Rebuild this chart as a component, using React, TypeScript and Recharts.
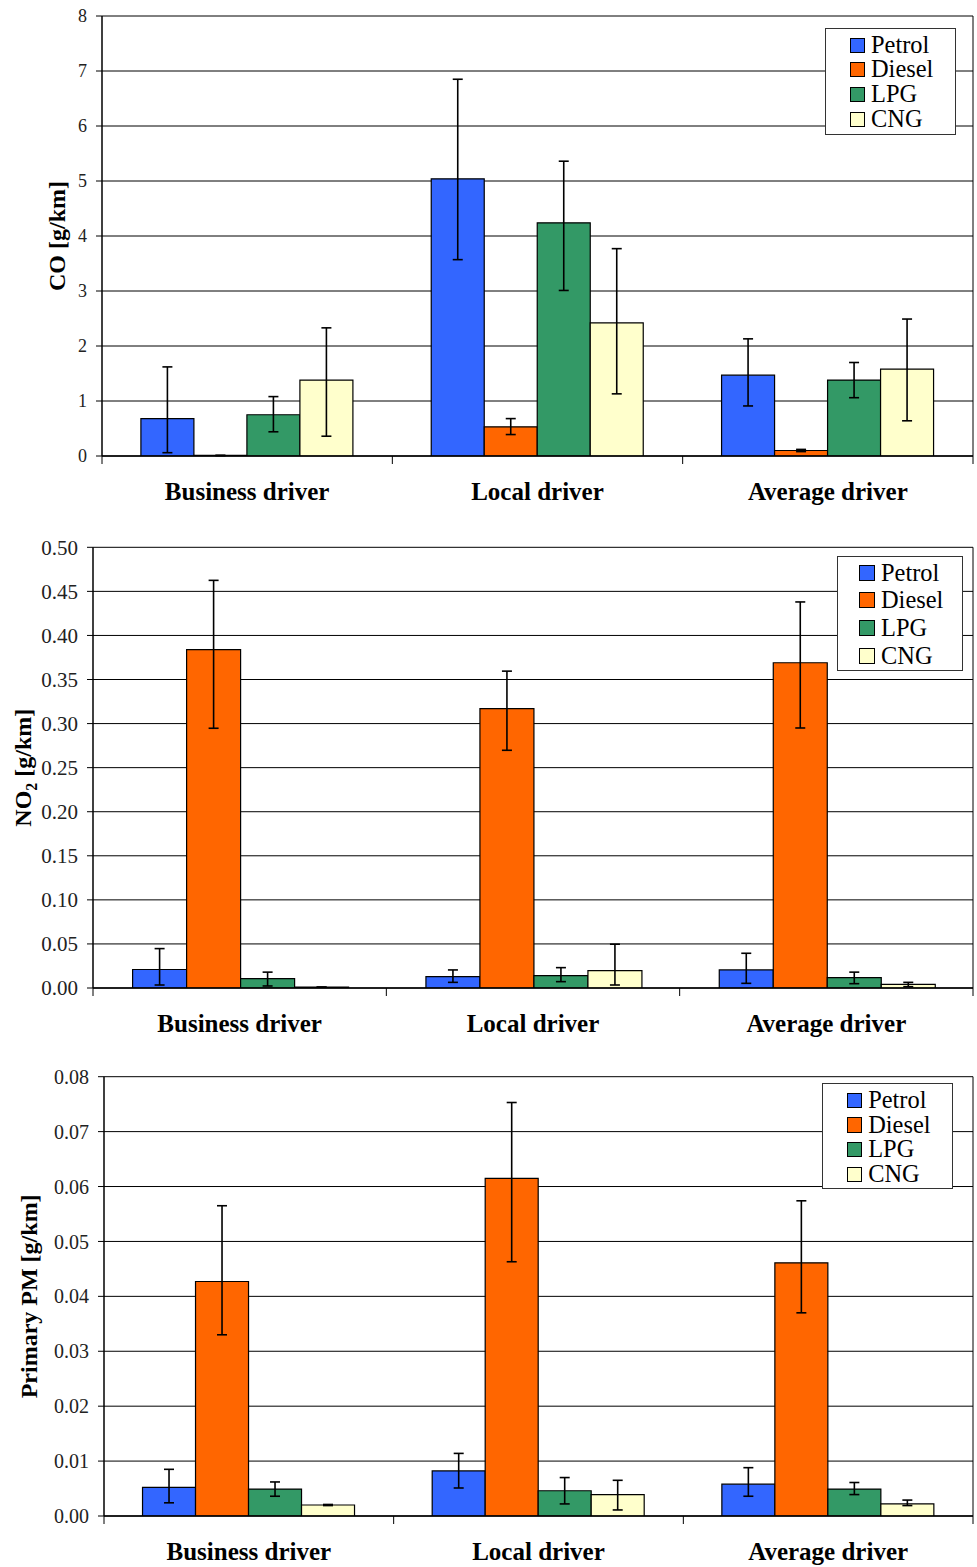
import React from 'react';
import { Bar, BarChart, XAxis, YAxis, CartesianGrid, Legend, ErrorBar, Label } from 'recharts';

const FONT = '"Liberation Serif", "Times New Roman", serif';

const drivers = ['Business driver', 'Local driver', 'Average driver'];
const fuels = ['Petrol', 'Diesel', 'LPG', 'CNG'];
const fuelColors = ['#3366FF', '#FF6600', '#339966', '#FFFFCC'];

// CO [g/km] — mean per driver type, error ranges as [low, high]
const coPetrol = [0.68, 5.04, 1.47];
const coDiesel = [0.01, 0.53, 0.1];
const coLpg = [0.75, 4.24, 1.38];
const coCng = [1.38, 2.42, 1.58];
const coPetrolRange = [[0.06, 1.62], [3.57, 6.85], [0.91, 2.13]];
const coDieselRange = [[0.01, 0.01], [0.39, 0.68], [0.08, 0.12]];
const coLpgRange = [[0.44, 1.08], [3.01, 5.36], [1.06, 1.7]];
const coCngRange = [[0.36, 2.33], [1.13, 3.77], [0.64, 2.49]];
const coTicks = [0, 1, 2, 3, 4, 5, 6, 7, 8];

// NO2 [g/km]
const no2Petrol = [0.021, 0.0128, 0.0205];
const no2Diesel = [0.384, 0.317, 0.369];
const no2Lpg = [0.0106, 0.014, 0.0117];
const no2Cng = [0.001, 0.0197, 0.0042];
const no2PetrolRange = [[0.0034, 0.0447], [0.0064, 0.0205], [0.0053, 0.0394]];
const no2DieselRange = [[0.2947, 0.4625], [0.2697, 0.3595], [0.295, 0.438]];
const no2LpgRange = [[0.0023, 0.018], [0.0072, 0.0231], [0.0049, 0.018]];
const no2CngRange = [[0.001, 0.001], [0.0034, 0.0497], [0.0015, 0.0064]];
const no2Ticks = [0, 0.05, 0.1, 0.15, 0.2, 0.25, 0.3, 0.35, 0.4, 0.45, 0.5];

// Primary PM [g/km]
const pmPetrol = [0.0052, 0.0082, 0.0058];
const pmDiesel = [0.0427, 0.0615, 0.0461];
const pmLpg = [0.0049, 0.0046, 0.0049];
const pmCng = [0.002, 0.0039, 0.0022];
const pmPetrolRange = [[0.0024, 0.0085], [0.0051, 0.0114], [0.0036, 0.0088]];
const pmDieselRange = [[0.033, 0.0565], [0.0463, 0.0753], [0.037, 0.0574]];
const pmLpgRange = [[0.0036, 0.0062], [0.0022, 0.007], [0.0039, 0.0061]];
const pmCngRange = [[0.0019, 0.0021], [0.0011, 0.0065], [0.0019, 0.0029]];
const pmTicks = [0, 0.01, 0.02, 0.03, 0.04, 0.05, 0.06, 0.07, 0.08];

type Series = [number[], number[][]];

const buildRows = (series: Series[]) =>
  drivers.map((driver, i) => {
    const row: Record<string, any> = { driver };
    series.forEach(([vals, ranges], k) => {
      const f = fuels[k];
      row[f] = vals[i];
      row[f + 'Err'] = [vals[i] - ranges[i][0], ranges[i][1] - vals[i]];
    });
    return row;
  });

const coRows = buildRows([
  [coPetrol, coPetrolRange],
  [coDiesel, coDieselRange],
  [coLpg, coLpgRange],
  [coCng, coCngRange],
]);
const no2Rows = buildRows([
  [no2Petrol, no2PetrolRange],
  [no2Diesel, no2DieselRange],
  [no2Lpg, no2LpgRange],
  [no2Cng, no2CngRange],
]);
const pmRows = buildRows([
  [pmPetrol, pmPetrolRange],
  [pmDiesel, pmDieselRange],
  [pmLpg, pmLpgRange],
  [pmCng, pmCngRange],
]);

// category label plus tick marks on the category boundaries
const CategoryTick = (props: any) => {
  const { x, y, payload, index, band, count } = props;
  const half = band / 2;
  return (
    <g>
      <line x1={x - half} y1={y} x2={x - half} y2={y + 8} stroke="#000" strokeWidth={1} />
      {index === count - 1 && <line x1={x + half} y1={y} x2={x + half} y2={y + 8} stroke="#000" strokeWidth={1} />}
      <text x={x} y={y + 44} textAnchor="middle" fontFamily={FONT} fontWeight="bold" fontSize={25} fill="#000">
        {payload.value}
      </text>
    </g>
  );
};

interface LegendCfg {
  left: number;
  top: number;
  width: number;
  rowH: number;
  padTop: number;
  padBottom: number;
  padLeft: number;
  sq: number;
}

const makeLegend = (cfg: LegendCfg) => (props: any) => {
  const items = [...(props.payload || [])].sort(
    (a: any, b: any) => fuels.indexOf(a.value) - fuels.indexOf(b.value)
  );
  return (
    <div
      style={{
        width: cfg.width,
        boxSizing: 'border-box',
        border: '1px solid #333',
        background: '#fff',
        padding: `${cfg.padTop}px 0 ${cfg.padBottom}px ${cfg.padLeft}px`,
        fontFamily: FONT,
        fontSize: 24.4,
        color: '#000',
        textAlign: 'left',
      }}
    >
      {items.map((item: any) => (
        <div key={item.value} style={{ height: cfg.rowH, lineHeight: `${cfg.rowH}px`, whiteSpace: 'nowrap' }}>
          <span
            style={{
              display: 'inline-block',
              width: cfg.sq,
              height: cfg.sq,
              boxSizing: 'border-box',
              border: '1.5px solid #000',
              background: item.color,
              marginRight: 6,
            }}
          />
          <span style={{ fontFamily: FONT }}>{item.value}</span>
        </div>
      ))}
    </div>
  );
};

interface ChartProps {
  top: number;
  height: number;
  plotTop: number;
  plotBottom: number;
  plotLeft: number;
  rows: Record<string, any>[];
  yTicks: number[];
  digits: number;
  tickFont: number;
  gap: string;
  label: React.ReactNode;
  labelX: number;
  legend: LegendCfg;
}

const RIGHT = 4;
const WIDTH = 977;

const EmissionChart = (p: ChartProps) => {
  const cy = (p.plotTop + p.plotBottom) / 2;
  const yMax = p.yTicks[p.yTicks.length - 1];
  const band = (WIDTH - RIGHT - p.plotLeft) / drivers.length;
  return (
    <div style={{ position: 'absolute', left: 0, top: p.top }}>
      <BarChart
        width={WIDTH}
        height={p.height}
        data={p.rows}
        margin={{ top: p.plotTop, right: RIGHT, bottom: 0, left: 0 }}
        barCategoryGap={p.gap}
        barGap={0}
        style={{ fontFamily: FONT }}
      >
        <CartesianGrid
          stroke="#000"
          strokeWidth={1}
          vertical
          verticalCoordinatesGenerator={({ offset }: any) => [offset.left + offset.width]}
        />
        <XAxis
          dataKey="driver"
          interval={0}
          tick={<CategoryTick band={band} count={drivers.length} />}
          tickLine={false}
          tickSize={0}
          tickMargin={0}
          axisLine={{ stroke: '#000', strokeWidth: 1.5 }}
          height={p.height - p.plotBottom}
        />
        <YAxis
          type="number"
          domain={[0, yMax]}
          ticks={p.yTicks}
          interval={0}
          allowDataOverflow
          width={p.plotLeft}
          tickFormatter={(v: number) => v.toFixed(p.digits)}
          tick={{ fill: '#222', fontSize: p.tickFont, fontFamily: FONT }}
          tickSize={6}
          tickMargin={9}
          axisLine={{ stroke: '#000', strokeWidth: 1.5 }}
          tickLine={{ stroke: '#000' }}
        >
          <Label
            content={() => (
              <text
                x={p.labelX}
                y={cy}
                transform={`rotate(-90, ${p.labelX}, ${cy})`}
                textAnchor="middle"
                fontFamily={FONT}
                fontWeight="bold"
                fontSize={24}
                fill="#000"
              >
                {p.label}
              </text>
            )}
          />
        </YAxis>
        <Legend
          layout="horizontal"
          verticalAlign="middle"
          align="center"
          content={makeLegend(p.legend)}
          wrapperStyle={{ position: 'absolute', left: p.legend.left, top: p.legend.top, width: p.legend.width }}
        />
        {fuels.map((f, k) => (
          <Bar key={f} dataKey={f} name={f} fill={fuelColors[k]} stroke="#000" strokeWidth={1.2} isAnimationActive={false}>
            <ErrorBar dataKey={f + 'Err'} direction="y" width={5} stroke="#000" strokeWidth={1.6} />
          </Bar>
        ))}
      </BarChart>
    </div>
  );
};

export default function App() {
  return (
    <div style={{ position: 'absolute', left: 0, top: 0, width: 977, height: 1567, background: '#fff' }}>
      <EmissionChart
        top={0}
        height={530}
        plotTop={16}
        plotBottom={456}
        plotLeft={102}
        rows={coRows}
        yTicks={coTicks}
        digits={0}
        tickFont={18}
        gap="13.4%"
        label="CO [g/km]"
        labelX={65}
        legend={{ left: 825, top: 28, width: 131, rowH: 24.7, padTop: 3.7, padBottom: 2.5, padLeft: 24, sq: 15 }}
      />
      <EmissionChart
        top={530}
        height={530}
        plotTop={17.3}
        plotBottom={458}
        plotLeft={93}
        rows={no2Rows}
        yTicks={no2Ticks}
        digits={2}
        tickFont={21}
        gap="13.5%"
        label={
          <>
            NO
            <tspan fontSize={16} dy={6}>2</tspan>
            <tspan dy={-6}> [g/km]</tspan>
          </>
        }
        labelX={31.5}
        legend={{ left: 837, top: 25.7, width: 126, rowH: 27.8, padTop: 2, padBottom: 0, padLeft: 21, sq: 16 }}
      />
      <EmissionChart
        top={1060}
        height={507}
        plotTop={16.7}
        plotBottom={456}
        plotLeft={104}
        rows={pmRows}
        yTicks={pmTicks}
        digits={2}
        tickFont={20}
        gap="13.3%"
        label="Primary PM [g/km]"
        labelX={37.5}
        legend={{ left: 821.7, top: 23.3, width: 131.6, rowH: 24.7, padTop: 3.8, padBottom: 1.4, padLeft: 24, sq: 15.5 }}
      />
    </div>
  );
}
